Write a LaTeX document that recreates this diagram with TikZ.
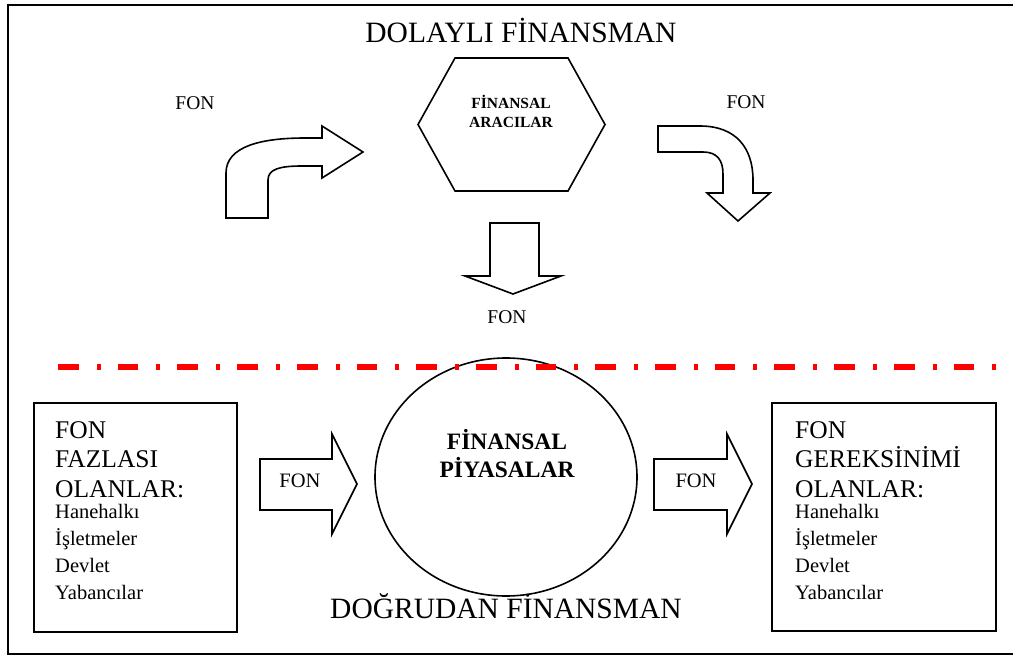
\documentclass[tikz,border=0pt]{standalone}
\usepackage{fontspec}
\setmainfont{Liberation Serif}
\usetikzlibrary{shapes.geometric}
\begin{document}
\begin{tikzpicture}[x=1pt,y=-1pt,
  frame/.style={draw=black,line width=2},
  shp/.style={draw=black,line width=1.6,line join=miter},
  lbl/.style={inner sep=0,font=\fontsize{19.5}{23}\selectfont},
  lblb/.style={inner sep=0,font=\fontsize{20.5}{24}\selectfont},
  big/.style={inner sep=0,font=\fontsize{29.5}{35}\selectfont},
  boxtext/.style={inner sep=0,anchor=base west,align=left},
  sepline/.style={draw=red,line width=6,dash pattern=on 20.7 off 18 on 4 off 17}]
\useasboundingbox (0,0) rectangle (1013,656);
% outer frame (open on the right)
\draw[frame] (1013,5) -- (8,5) -- (8,654) -- (1013,654);
% titles
\node[big,anchor=base] (t1) at (521,42) {DOLAYLI FİNANSMAN};
% hexagon
\draw[shp] (418,124.5) -- (455,58) -- (568,58) -- (605,124.5) -- (568,191) -- (455,191) -- cycle;
\node[inner sep=0,anchor=base,text width=120,align=center,font=\bfseries\fontsize{15.5}{19}\selectfont] (fa) at (511,108) {FİNANSAL\\ARACILAR};
% curved arrow left
\draw[shp] (226,218) -- (226,173) .. controls (226,146) and (262,138) .. (305,138) -- (322,138) -- (322,126) -- (363,152) -- (322,178) -- (322,166) -- (302,166) .. controls (280,166) and (268,169) .. (268,180) -- (268,218) -- cycle;
% curved arrow right
\draw[shp] (658,126) -- (700,126) .. controls (736,126) and (753,148) .. (753,180) -- (753,193) -- (770,193) -- (738,221) -- (707,193) -- (723,193) -- (723,174) .. controls (723,160) and (717,152) .. (703,152) -- (658,152) -- cycle;
% down arrow
\draw[shp] (490,223) -- (539,223) -- (539,276) -- (561,276) -- (513,294) -- (465,276) -- (490,276) -- cycle;
% FON labels (top part)
\node[lbl,anchor=base] (fon1) at (195,109) {FON};
\node[lbl,anchor=base] (fon2) at (746,108) {FON};
\node[lbl,anchor=base] (fon3) at (507,323) {FON};
% ellipse
\node[draw,line width=1.6,ellipse,minimum width=262,minimum height=238,inner sep=0] (fp) at (506,477) {};
\node[inner sep=0,anchor=base,text width=200,align=center,font=\bfseries\fontsize{23.5}{28}\selectfont] (fptext) at (507,449) {FİNANSAL\\PİYASALAR};
% lower title
\node[big,anchor=base] (t2) at (506,618) {DOĞRUDAN FİNANSMAN};
% separator line
\draw[sepline] (58,367) -- (1013,367);
% boxes
\node[frame,minimum width=203,minimum height=229,inner sep=0] (lbox) at (135.5,517.5) {};
\node[frame,minimum width=224,minimum height=228,inner sep=0] (rbox) at (884,517) {};
\node[boxtext,text width=180] (ltext) at (55,438) {\fontsize{25.5}{29.5}\selectfont FON\\FAZLASI\\OLANLAR:\par\vspace{-6pt}\fontsize{20.5}{27}\selectfont Hanehalkı\\İşletmeler\\Devlet\\Yabancılar\par};
\node[boxtext,text width=195] (rtext) at (795,438) {\fontsize{25.5}{29.5}\selectfont FON\\GEREKSİNİMİ\\OLANLAR:\par\vspace{-6pt}\fontsize{20.5}{27}\selectfont Hanehalkı\\İşletmeler\\Devlet\\Yabancılar\par};
% block arrows
\draw[shp] (260,459) -- (332,459) -- (332,434) -- (357,484) -- (332,534) -- (332,510) -- (260,510) -- cycle;
\node[lblb,anchor=base] (fon4) at (300,487) {FON};
\draw[shp] (654,459) -- (727,459) -- (727,434) -- (752,484) -- (727,534) -- (727,510) -- (654,510) -- cycle;
\node[lblb,anchor=base] (fon5) at (696,487) {FON};
\end{tikzpicture}
\end{document}
